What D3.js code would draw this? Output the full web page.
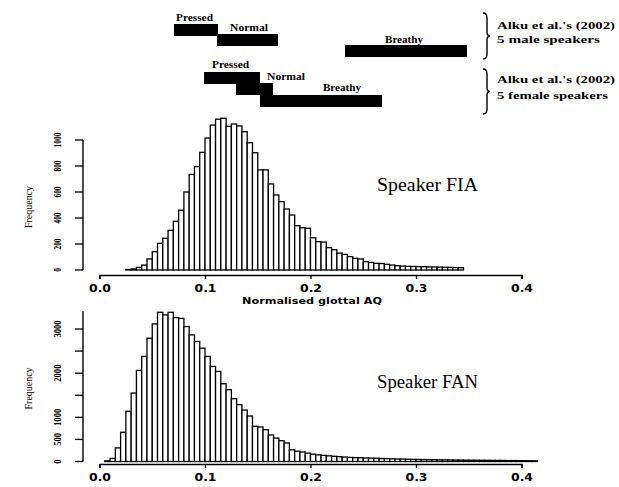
<!DOCTYPE html>
<html lang="en">
<head>
<meta charset="UTF-8">
<title>Normalised glottal AQ histograms</title>
<script src="https://d3js.org/d3.v7.min.js"></script>
<style>
  body { margin: 0; background: #fff; }
  svg { display: block; }
</style>
</head>
<body>
<div id="chart"></div>
<script>
// ---- data ----
const binWidth = 0.005;

// speaker FIA: counts per bin, first bin starts at 0.025
const fiaStart = 0.025;
const fiaCounts = [4, 8, 20, 38, 85, 141, 205, 244, 305, 375,
  460, 600, 735, 795, 905, 1015, 1115, 1160, 1167, 1105,
  1123, 1108, 1064, 979, 902, 770, 770, 662, 577, 526,
  469, 423, 341, 325, 321, 248, 218, 215, 172, 156,
  130, 120, 103, 90, 85, 64, 58, 51, 50, 44,
  38, 33, 30, 28, 27, 26, 25, 24, 23, 22,
  21, 20, 19, 18];

// speaker FAN: counts per bin, first bin starts at 0.005
const fanStart = 0.005;
const fanCounts = [15, 70, 308, 662, 1136, 1550, 2062, 2378, 2791, 3115,
  3378, 3318, 3378, 3258, 3240, 3055, 2867, 2717, 2566, 2378,
  2152, 2039, 1761, 1625, 1422, 1287, 1165, 1030, 797, 783,
  720, 600, 530, 470, 420, 265, 233, 215, 190, 165,
  150, 138, 128, 118, 110, 100, 92, 88, 85, 80,
  76, 73, 68, 64, 61, 57, 55, 51, 48, 46,
  44, 42, 40, 38, 37, 35, 33, 32, 30, 29,
  28, 27, 26, 25, 24, 23, 22, 21, 20, 19, 18, 17];

const xTicks = [0.0, 0.1, 0.2, 0.3, 0.4];
const fiaTicks = [0, 200, 400, 600, 800, 1000];
const fanTicks = [0, 500, 1000, 1500, 2000, 2500, 3000];
const fanTickLabels = ["0", "500", "1000", "", "2000", "", "3000"];

// Alku et al. (2002) AQ ranges
const phonations = ["Pressed", "Normal", "Breathy"];
const maleLow = [0.0706, 0.1114, 0.2327];
const maleHigh = [0.1123, 0.1692, 0.3483];
const femaleLow = [0.0991, 0.1294, 0.1521];
const femaleHigh = [0.1521, 0.1645, 0.2678];

// ---- layout ----
const W = 619, H = 487;
const svg = d3.select("#chart").append("svg")
  .attr("width", W).attr("height", H);
svg.append("rect").attr("width", W).attr("height", H).attr("fill", "#fff");

const x = d3.scaleLinear().domain([0, 0.4]).range([99.5, 521.5]);

const serif = "'Liberation Serif', 'Times New Roman', serif";
const sans = "'DejaVu Sans', Arial, sans-serif";

function histogram(start, counts, y) {
  const g = svg.append("g");
  g.selectAll("rect")
    .data(counts)
    .enter()
    .append("rect")
    .attr("x", (d, i) => x(start + i * binWidth))
    .attr("width", x(binWidth) - x(0))
    .attr("y", d => y(d))
    .attr("height", d => y(0) - y(d))
    .attr("fill", "#fff")
    .attr("stroke", "#000")
    .attr("stroke-width", 1.3);
}

function xAxis(yPos, withLabel) {
  const g = svg.append("g")
    .attr("transform", "translate(0," + yPos + ")")
    .call(d3.axisBottom(x).tickValues(xTicks).tickSize(4).tickPadding(6)
      .tickFormat(d3.format(".1f")));
  g.select(".domain").attr("stroke-width", 1.3);
  g.selectAll(".tick line").attr("stroke-width", 1.3);
  g.selectAll("text")
    .attr("font-family", sans)
    .attr("font-weight", "bold")
    .attr("font-size", 10)
    .attr("textLength", 22)
    .attr("lengthAdjust", "spacingAndGlyphs");
  if (withLabel) {
    svg.append("text")
      .attr("x", 312).attr("y", yPos + 29)
      .attr("text-anchor", "middle")
      .attr("font-family", sans).attr("font-weight", "bold")
      .attr("font-size", 8.5)
      .attr("textLength", 140).attr("lengthAdjust", "spacingAndGlyphs")
      .text("Normalised glottal AQ");
  }
}

function yAxis(y, ticks, labels, charW, top) {
  const g = svg.append("g").attr("transform", "translate(83,0)");
  g.append("line")
    .attr("y1", y(0)).attr("y2", top)
    .attr("stroke", "#000").attr("stroke-width", 1.4);
  g.selectAll(".tk").data(ticks).enter().append("line")
    .attr("x1", -8).attr("x2", 0)
    .attr("y1", d => y(d)).attr("y2", d => y(d))
    .attr("stroke", "#000").attr("stroke-width", 1.3);
  g.selectAll(".lb").data(ticks).enter().append("text")
    .attr("transform", d => "translate(-22," + y(d) + ") rotate(-90)")
    .attr("text-anchor", "middle")
    .attr("font-family", serif).attr("font-weight", "bold")
    .attr("font-size", 10)
    .attr("textLength", (d, i) => labels[i].length * charW)
    .attr("lengthAdjust", "spacingAndGlyphs")
    .text((d, i) => labels[i]);
  svg.append("text")
    .attr("transform", "translate(32," + ((y(0) + top) / 2 + 2) + ") rotate(-90)")
    .attr("text-anchor", "middle")
    .attr("font-family", serif).attr("font-size", 10.5)
    .attr("textLength", 42).attr("lengthAdjust", "spacingAndGlyphs")
    .text("Frequency");
}

// ---- FIA ----
const yFia = d3.scaleLinear().domain([0, 1000]).range([270, 140]);
histogram(fiaStart, fiaCounts, yFia);
xAxis(275, true);
yAxis(yFia, fiaTicks, fiaTicks.map(String), 3.7, yFia(1000));
svg.append("text")
  .attr("x", 377).attr("y", 191)
  .attr("font-family", serif).attr("font-size", 19)
  .attr("textLength", 101).attr("lengthAdjust", "spacingAndGlyphs")
  .text("Speaker FIA");

// ---- FAN ----
const yFan = d3.scaleLinear().domain([0, 3000]).range([461.5, 329]);
histogram(fanStart, fanCounts, yFan);
xAxis(464, false);
yAxis(yFan, fanTicks, fanTickLabels, 4.3, yFan(3400));
svg.append("text")
  .attr("x", 377).attr("y", 388)
  .attr("font-family", serif).attr("font-size", 19)
  .attr("textLength", 101).attr("lengthAdjust", "spacingAndGlyphs")
  .text("Speaker FAN");

// ---- Alku et al. ranges ----
const rangeBarH = 12;
const groups = [
  { low: maleLow, high: maleHigh, tops: [24, 34, 45], labelDx: [2, 13, 40], labelDy: [-3, -3, -2],
    brace: [13, 59], lines: ["Alku et al.'s (2002)", "5 male speakers"], lineY: [29, 43], lineW: [118, 103] },
  { low: femaleLow, high: femaleHigh, tops: [72, 83, 95], labelDx: [8, 31, 63], labelDy: [-4, -3, -4],
    brace: [69, 114], lines: ["Alku et al.'s (2002)", "5 female speakers"], lineY: [83, 99], lineW: [118, 111] }
];

groups.forEach(gr => {
  const g = svg.append("g");
  g.selectAll("rect").data(phonations).enter().append("rect")
    .attr("x", (d, i) => x(gr.low[i]))
    .attr("width", (d, i) => x(gr.high[i]) - x(gr.low[i]))
    .attr("y", (d, i) => gr.tops[i])
    .attr("height", rangeBarH)
    .attr("fill", "#000");
  g.selectAll("text").data(phonations).enter().append("text")
    .attr("x", (d, i) => x(gr.low[i]) + gr.labelDx[i])
    .attr("y", (d, i) => gr.tops[i] + gr.labelDy[i])
    .attr("font-family", serif).attr("font-weight", "bold")
    .attr("font-size", 10)
    .attr("textLength", d => d === "Pressed" ? 37 : 38)
    .attr("lengthAdjust", "spacingAndGlyphs")
    .text(d => d);

  const [b0, b1] = gr.brace, bm = (b0 + b1) / 2;
  g.append("path")
    .attr("d", `M483,${b0} Q487,${b0} 487,${b0 + 5} L487,${bm - 4} Q487,${bm} 490,${bm}` +
      ` Q487,${bm} 487,${bm + 4} L487,${b1 - 5} Q487,${b1} 483,${b1}`)
    .attr("fill", "none").attr("stroke", "#000").attr("stroke-width", 1.4);

  gr.lines.forEach((t, i) => {
    g.append("text")
      .attr("x", 497).attr("y", gr.lineY[i])
      .attr("font-family", serif).attr("font-weight", "bold")
      .attr("font-size", 11)
      .attr("textLength", gr.lineW[i]).attr("lengthAdjust", "spacingAndGlyphs")
      .text(t);
  });
});
</script>
</body>
</html>
